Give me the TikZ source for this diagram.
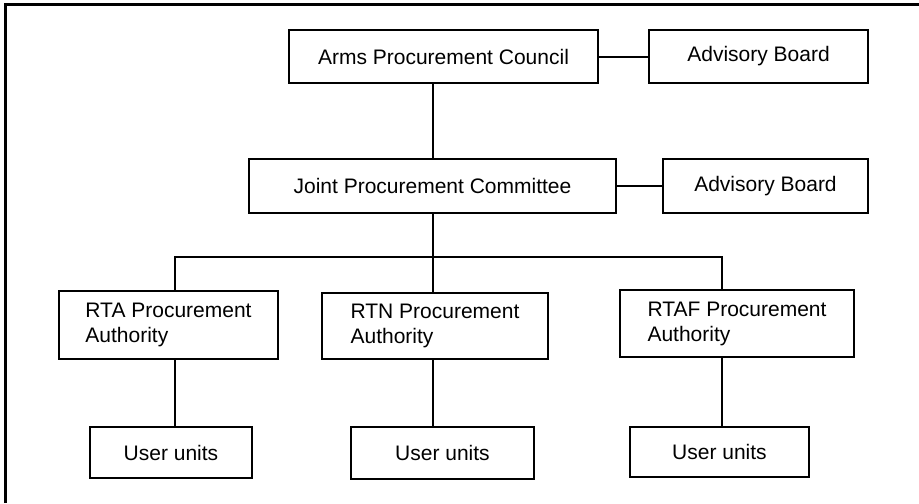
\documentclass[tikz,border=0pt]{standalone}
\usepackage{fontspec}
\setmainfont{Liberation Sans}
\usetikzlibrary{calc, positioning}

\begin{document}
\begin{tikzpicture}[x=0.5pt, y=-0.5pt,
    orgbox/.style={draw, line width=1.2pt, rectangle, inner sep=0pt,
      font=\fontsize{10.5}{12.5}\selectfont},
    twoline/.style={orgbox, align=left},
    link/.style={line width=1pt}]
    \useasboundingbox (0,0) rectangle (919,503);

    % frame (left and top edge only)
    \draw[line width=1.5pt] (5,503) -- (5,4) -- (919,4);

    % top levels
    \node[orgbox, minimum width=154.5pt, minimum height=26.5pt] (apc) at (443.5,56.5) {Arms Procurement Council};
    \node[orgbox, minimum width=109.5pt, minimum height=26.5pt] (advA) at (758.5,56.5) {Advisory Board};
    \node[orgbox, minimum width=183.5pt, minimum height=27pt] (jpc) at (432.5,186) {Joint Procurement Committee};
    \node[orgbox, minimum width=102.5pt, minimum height=27pt] (advB) at (765.5,186) {Advisory Board};

    % service authorities
    \node[twoline, minimum width=109.5pt, minimum height=34pt] (rta) at (168.5,325) {RTA Procurement\\Authority};
    \node[twoline, minimum width=113pt, minimum height=33pt] (rtn) at (435,326) {RTN Procurement\\Authority};
    \node[twoline, minimum width=117pt, minimum height=33.5pt] (rtaf) at (737,323.5) {RTAF Procurement\\Authority};

    % user units
    \node[orgbox, minimum width=81pt, minimum height=25.5pt] (unitA) at (171,452.5) {User units};
    \node[orgbox, minimum width=91.5pt, minimum height=26pt] (unitN) at (442.5,453) {User units};
    \node[orgbox, minimum width=89.5pt, minimum height=25pt] (unitF) at (719.5,452) {User units};

    % branch bar
    \coordinate (barL) at (175,257);
    \coordinate (barR) at (722,257);

    % connectors
    \draw[link] (jpc.north) -- (jpc.north |- apc.south);
    \draw[link] (apc.east) -- (advA.west);
    \draw[link] (jpc.east) -- (advB.west);
    \draw[link] (jpc.south) -- (jpc.south |- rtn.north);
    \draw[link] (barL |- rta.north) -- (barL) -- (barR) -- (barR |- rtaf.north);
    \draw[link] (barL |- rta.south) -- (barL |- unitA.north);
    \draw[link] (jpc.south |- rtn.south) -- (jpc.south |- unitN.north);
    \draw[link] (barR |- rtaf.south) -- (barR |- unitF.north);
\end{tikzpicture}
\end{document}
